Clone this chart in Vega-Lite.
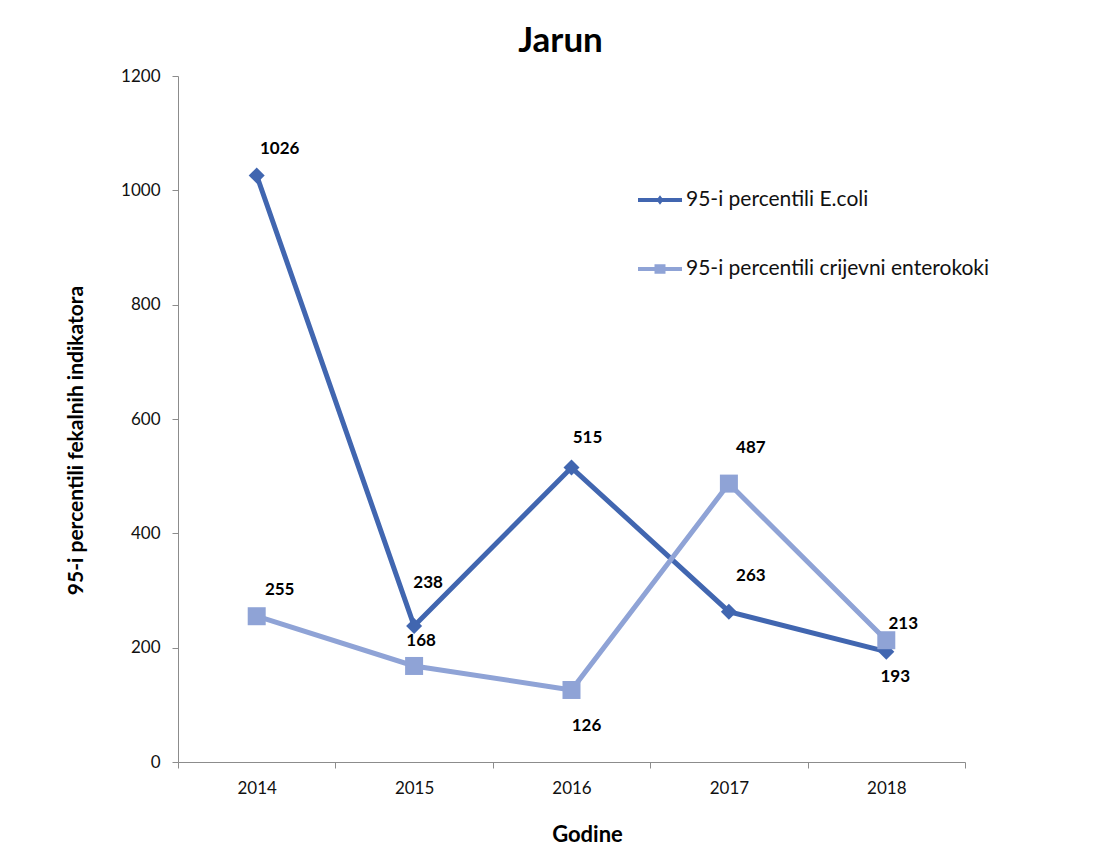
{
  "$schema": "https://vega.github.io/schema/vega-lite/v6.json",
  "width": 787,
  "height": 686,
  "autosize": "none",
  "padding": {"left": 178, "top": 76, "right": 131, "bottom": 103},
  "background": "white",
  "title": {
    "text": "Jarun",
    "font": "Lato",
    "fontSize": 35,
    "fontWeight": "bold",
    "color": "#000000",
    "anchor": "middle",
    "frame": "group",
    "dx": -11,
    "offset": 8
  },
  "config": {
    "view": {"stroke": null},
    "axis": {
      "labelFont": "Lato",
      "labelFontSize": 17,
      "labelColor": "#111111",
      "titleFont": "Lato",
      "titleColor": "#000000",
      "titleFontWeight": "bold",
      "domainColor": "#8c8c8c",
      "tickColor": "#8c8c8c",
      "tickSize": 6,
      "grid": false
    }
  },
  "data": {
    "values": [
      {"godina": "2014", "serija": "95-i percentili E.coli", "vrijednost": 1026},
      {"godina": "2015", "serija": "95-i percentili E.coli", "vrijednost": 238},
      {"godina": "2016", "serija": "95-i percentili E.coli", "vrijednost": 515},
      {"godina": "2017", "serija": "95-i percentili E.coli", "vrijednost": 263},
      {"godina": "2018", "serija": "95-i percentili E.coli", "vrijednost": 193},
      {"godina": "2014", "serija": "95-i percentili crijevni enterokoki", "vrijednost": 255},
      {"godina": "2015", "serija": "95-i percentili crijevni enterokoki", "vrijednost": 168},
      {"godina": "2016", "serija": "95-i percentili crijevni enterokoki", "vrijednost": 126},
      {"godina": "2017", "serija": "95-i percentili crijevni enterokoki", "vrijednost": 487},
      {"godina": "2018", "serija": "95-i percentili crijevni enterokoki", "vrijednost": 213}
    ]
  },
  "encoding": {
    "x": {
      "field": "godina",
      "type": "nominal",
      "scale": {"paddingInner": 0, "paddingOuter": 0},
      "axis": {
        "title": "Godine",
        "titleFontSize": 22,
        "labelAngle": 0,
        "tickBand": "extent",
        "labelPadding": 12,
        "titleX": 409,
        "titleY": 72,
        "titleBaseline": "middle"
      }
    },
    "y": {
      "field": "vrijednost",
      "type": "quantitative",
      "scale": {"domain": [0, 1200]},
      "axis": {
        "title": "95-i percentili  fekalnih indikatora",
        "titleFontSize": 21,
        "format": "d",
        "values": [0, 200, 400, 600, 800, 1000, 1200],
        "labelPadding": 12,
        "titleX": -102,
        "titleY": 364,
        "titleBaseline": "middle"
      }
    }
  },
  "layer": [
    {
      "mark": {"type": "line", "strokeWidth": 5},
      "encoding": {
        "color": {
          "field": "serija",
          "type": "nominal",
          "sort": ["95-i percentili E.coli", "95-i percentili crijevni enterokoki"],
          "scale": {
            "domain": ["95-i percentili E.coli", "95-i percentili crijevni enterokoki"],
            "range": ["#4166B0", "#8FA3D6"]
          },
          "legend": {
            "title": null,
            "orient": "none",
            "legendX": 460,
            "legendY": 102,
            "padding": 0,
            "symbolSize": 1936,
            "labelFont": "Lato",
            "labelFontSize": 21,
            "labelColor": "#111111",
            "labelOffset": 4,
            "rowPadding": 37,
            "labelLimit": 500,
            "encode": {
              "symbols": {
                "update": {
                  "shape": {"signal": "datum.value === '95-i percentili E.coli' ? 'M-1,-0.09L1,-0.09L1,0.09L-1,0.09ZM0,-0.22L0.16,0L0,0.22L-0.16,0Z' : 'M-1,-0.09L1,-0.09L1,0.09L-1,0.09ZM-0.25,-0.22L0.25,-0.22L0.25,0.22L-0.25,0.22Z'"},
                  "size": {"value": 1936},
                  "fill": {"scale": "color", "field": "value"},
                  "stroke": {"value": "transparent"},
                  "strokeWidth": {"value": 0},
                  "opacity": {"value": 1}
                }
              }
            }
          }
        }
      }
    },
    {
      "transform": [{"filter": "datum.serija === '95-i percentili E.coli'"}],
      "mark": {"type": "point", "shape": "diamond", "size": 256, "filled": true, "opacity": 1},
      "encoding": {"color": {"field": "serija", "type": "nominal", "legend": null}}
    },
    {
      "transform": [{"filter": "datum.serija === '95-i percentili crijevni enterokoki'"}],
      "mark": {"type": "point", "shape": "square", "size": 324, "filled": true, "opacity": 1},
      "encoding": {"color": {"field": "serija", "type": "nominal", "legend": null}}
    },
    {
      "transform": [{"filter": {"field": "vrijednost", "oneOf": [1026, 255]}}],
      "mark": {"type": "text", "font": "Lato", "fontSize": 17, "fontWeight": "bold", "color": "#000000", "dx": 23, "dy": -26, "baseline": "middle"},
      "encoding": {"text": {"field": "vrijednost", "type": "quantitative"}}
    },
    {
      "transform": [{"filter": {"field": "vrijednost", "oneOf": [238]}}],
      "mark": {"type": "text", "font": "Lato", "fontSize": 17, "fontWeight": "bold", "color": "#000000", "dx": 14, "dy": -43, "baseline": "middle"},
      "encoding": {"text": {"field": "vrijednost", "type": "quantitative"}}
    },
    {
      "transform": [{"filter": {"field": "vrijednost", "oneOf": [168]}}],
      "mark": {"type": "text", "font": "Lato", "fontSize": 17, "fontWeight": "bold", "color": "#000000", "dx": 7, "dy": -25, "baseline": "middle"},
      "encoding": {"text": {"field": "vrijednost", "type": "quantitative"}}
    },
    {
      "transform": [{"filter": {"field": "vrijednost", "oneOf": [515]}}],
      "mark": {"type": "text", "font": "Lato", "fontSize": 17, "fontWeight": "bold", "color": "#000000", "dx": 16, "dy": -30, "baseline": "middle"},
      "encoding": {"text": {"field": "vrijednost", "type": "quantitative"}}
    },
    {
      "transform": [{"filter": {"field": "vrijednost", "oneOf": [126]}}],
      "mark": {"type": "text", "font": "Lato", "fontSize": 17, "fontWeight": "bold", "color": "#000000", "dx": 15, "dy": 36, "baseline": "middle"},
      "encoding": {"text": {"field": "vrijednost", "type": "quantitative"}}
    },
    {
      "transform": [{"filter": {"field": "vrijednost", "oneOf": [263, 487]}}],
      "mark": {"type": "text", "font": "Lato", "fontSize": 17, "fontWeight": "bold", "color": "#000000", "dx": 22, "dy": -36, "baseline": "middle"},
      "encoding": {"text": {"field": "vrijednost", "type": "quantitative"}}
    },
    {
      "transform": [{"filter": {"field": "vrijednost", "oneOf": [193]}}],
      "mark": {"type": "text", "font": "Lato", "fontSize": 17, "fontWeight": "bold", "color": "#000000", "dx": 9, "dy": 25, "baseline": "middle"},
      "encoding": {"text": {"field": "vrijednost", "type": "quantitative"}}
    },
    {
      "transform": [{"filter": {"field": "vrijednost", "oneOf": [213]}}],
      "mark": {"type": "text", "font": "Lato", "fontSize": 17, "fontWeight": "bold", "color": "#000000", "dx": 17, "dy": -16, "baseline": "middle"},
      "encoding": {"text": {"field": "vrijednost", "type": "quantitative"}}
    }
  ]
}
